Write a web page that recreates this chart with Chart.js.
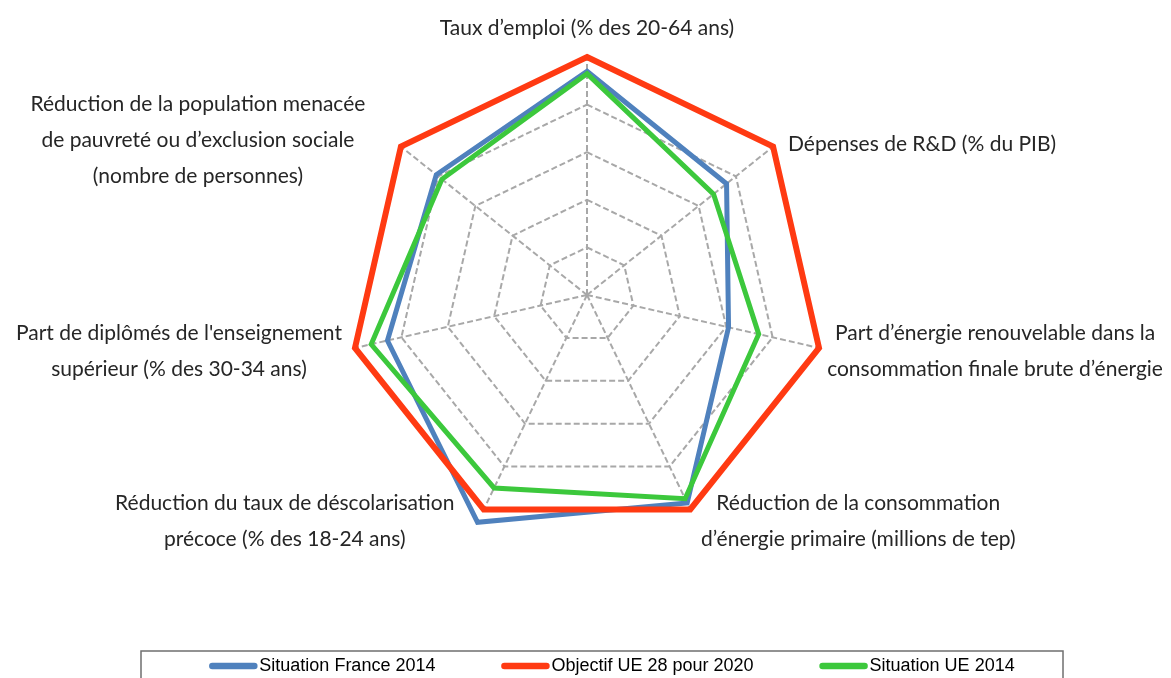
<!DOCTYPE html>
<html><head><meta charset="utf-8">
<script src="https://cdn.jsdelivr.net/npm/chart.js@4.4.1/dist/chart.umd.min.js"></script>
<style>html,body{margin:0;padding:0;background:#fff;}#wrap{width:1171px;height:678px;}</style>
</head><body><div id="wrap"><canvas id="c" width="1171" height="678"></canvas></div>
<script>
const categories = [
  ["Taux d’emploi (% des 20-64 ans)"],
  ["Dépenses de R&D (% du PIB)"],
  ["Part d’énergie renouvelable dans la", "consommation finale brute d’énergie"],
  ["Réduction de la consommation", "d’énergie primaire (millions de tep)"],
  ["Réduction du taux de déscolarisation", "précoce (% des 18-24 ans)"],
  ["Part de diplômés de l'enseignement", "supérieur (% des 30-34 ans)"],
  ["Réduction de la population menacée", "de pauvreté ou d’exclusion sociale", "(nombre de personnes)"]
];
const seriesNames = ["Situation France 2014", "Objectif UE 28 pour 2020", "Situation UE 2014"];
const franceValues = [94, 75, 61, 97, 106, 86, 81];
const objectiveValues = [100, 100, 100, 100, 100, 100, 100];
const euValues = [93, 68, 74, 95, 90, 93, 78];
const scaleMin = 0, scaleMax = 100, scaleStep = 20;

const colors = ['#4f81bd', '#ff3a12', '#3cc83c'];
const labelFont = '21px Lato';
const labelColor = '#262626';
const lineH = 36;
// offset of each label block centre from the end of its axis: [dx, dy]
const placement = [[0, -29], [149, -2], [176, 3], [168, 12], [-199, 12], [-176, 3], [-203, -6]];

const labelsPlugin = {
  id: 'axisLabels',
  afterDraw(chart) {
    const sc = chart.scales.r, ctx = chart.ctx;
    ctx.save();
    ctx.font = labelFont; ctx.fillStyle = labelColor;
    ctx.textAlign = 'center'; ctx.textBaseline = 'middle';
    chart.data.labels.forEach((lines, i) => {
      const p = sc.getPointPosition(i, sc.drawingArea);
      const [dx, dy] = placement[i];
      const cx = p.x + dx, cy = p.y + dy;
      lines.forEach((l, k) => ctx.fillText(l, cx, cy - (lines.length - 1) * lineH / 2 + k * lineH));
    });
    ctx.restore();
  }
};

const legendPlugin = {
  id: 'boxLegend',
  afterDraw(chart) {
    const ctx = chart.ctx;
    ctx.save();
    ctx.strokeStyle = '#6f6f6f'; ctx.lineWidth = 1.5;
    ctx.strokeRect(141, 651, 922, 60);
    ctx.font = '18px "Liberation Sans", Arial';
    ctx.textBaseline = 'middle'; ctx.textAlign = 'left';
    const sw = 48, tgap = 2, igap = 66;
    const items = chart.data.datasets.map(d => ({label: d.label, color: d.borderColor, w: sw + tgap + ctx.measureText(d.label).width}));
    const total = items.reduce((s, it) => s + it.w, 0) + igap * (items.length - 1);
    let x = 612 - total / 2;
    const y = 666;
    items.forEach(it => {
      ctx.strokeStyle = it.color; ctx.lineWidth = 6.5; ctx.lineCap = 'round';
      ctx.beginPath(); ctx.moveTo(x + 3, y); ctx.lineTo(x + sw - 3, y); ctx.stroke();
      ctx.fillStyle = '#000';
      ctx.fillText(it.label, x + sw + tgap, y);
      x += it.w + igap;
    });
    ctx.restore();
  }
};

new Chart(document.getElementById('c'), {
  type: 'radar',
  data: {
    labels: categories,
    datasets: [
      {label: seriesNames[0], data: franceValues, borderColor: colors[0], borderWidth: 5, order: 3},
      {label: seriesNames[1], data: objectiveValues, borderColor: colors[1], borderWidth: 6, order: 2},
      {label: seriesNames[2], data: euValues, borderColor: colors[2], borderWidth: 5, order: 1}
    ]
  },
  options: {
    responsive: false, animation: false,
    layout: {padding: {left: 100, right: 97, top: 57, bottom: 145}},
    elements: {point: {radius: 0, hoverRadius: 0}, line: {tension: 0, fill: false, borderJoinStyle: 'miter'}},
    datasets: {radar: {clip: false}},
    plugins: {legend: {display: false}, tooltip: {enabled: false}},
    scales: {
      r: {
        min: scaleMin, max: scaleMax,
        ticks: {display: false, stepSize: scaleStep},
        grid: {color: '#a8a8a8', lineWidth: 2},
        border: {dash: [6, 3]},
        angleLines: {color: '#a8a8a8', lineWidth: 2, borderDash: [6, 3]},
        pointLabels: {display: false}
      }
    }
  },
  plugins: [labelsPlugin, legendPlugin]
});
</script></body></html>
